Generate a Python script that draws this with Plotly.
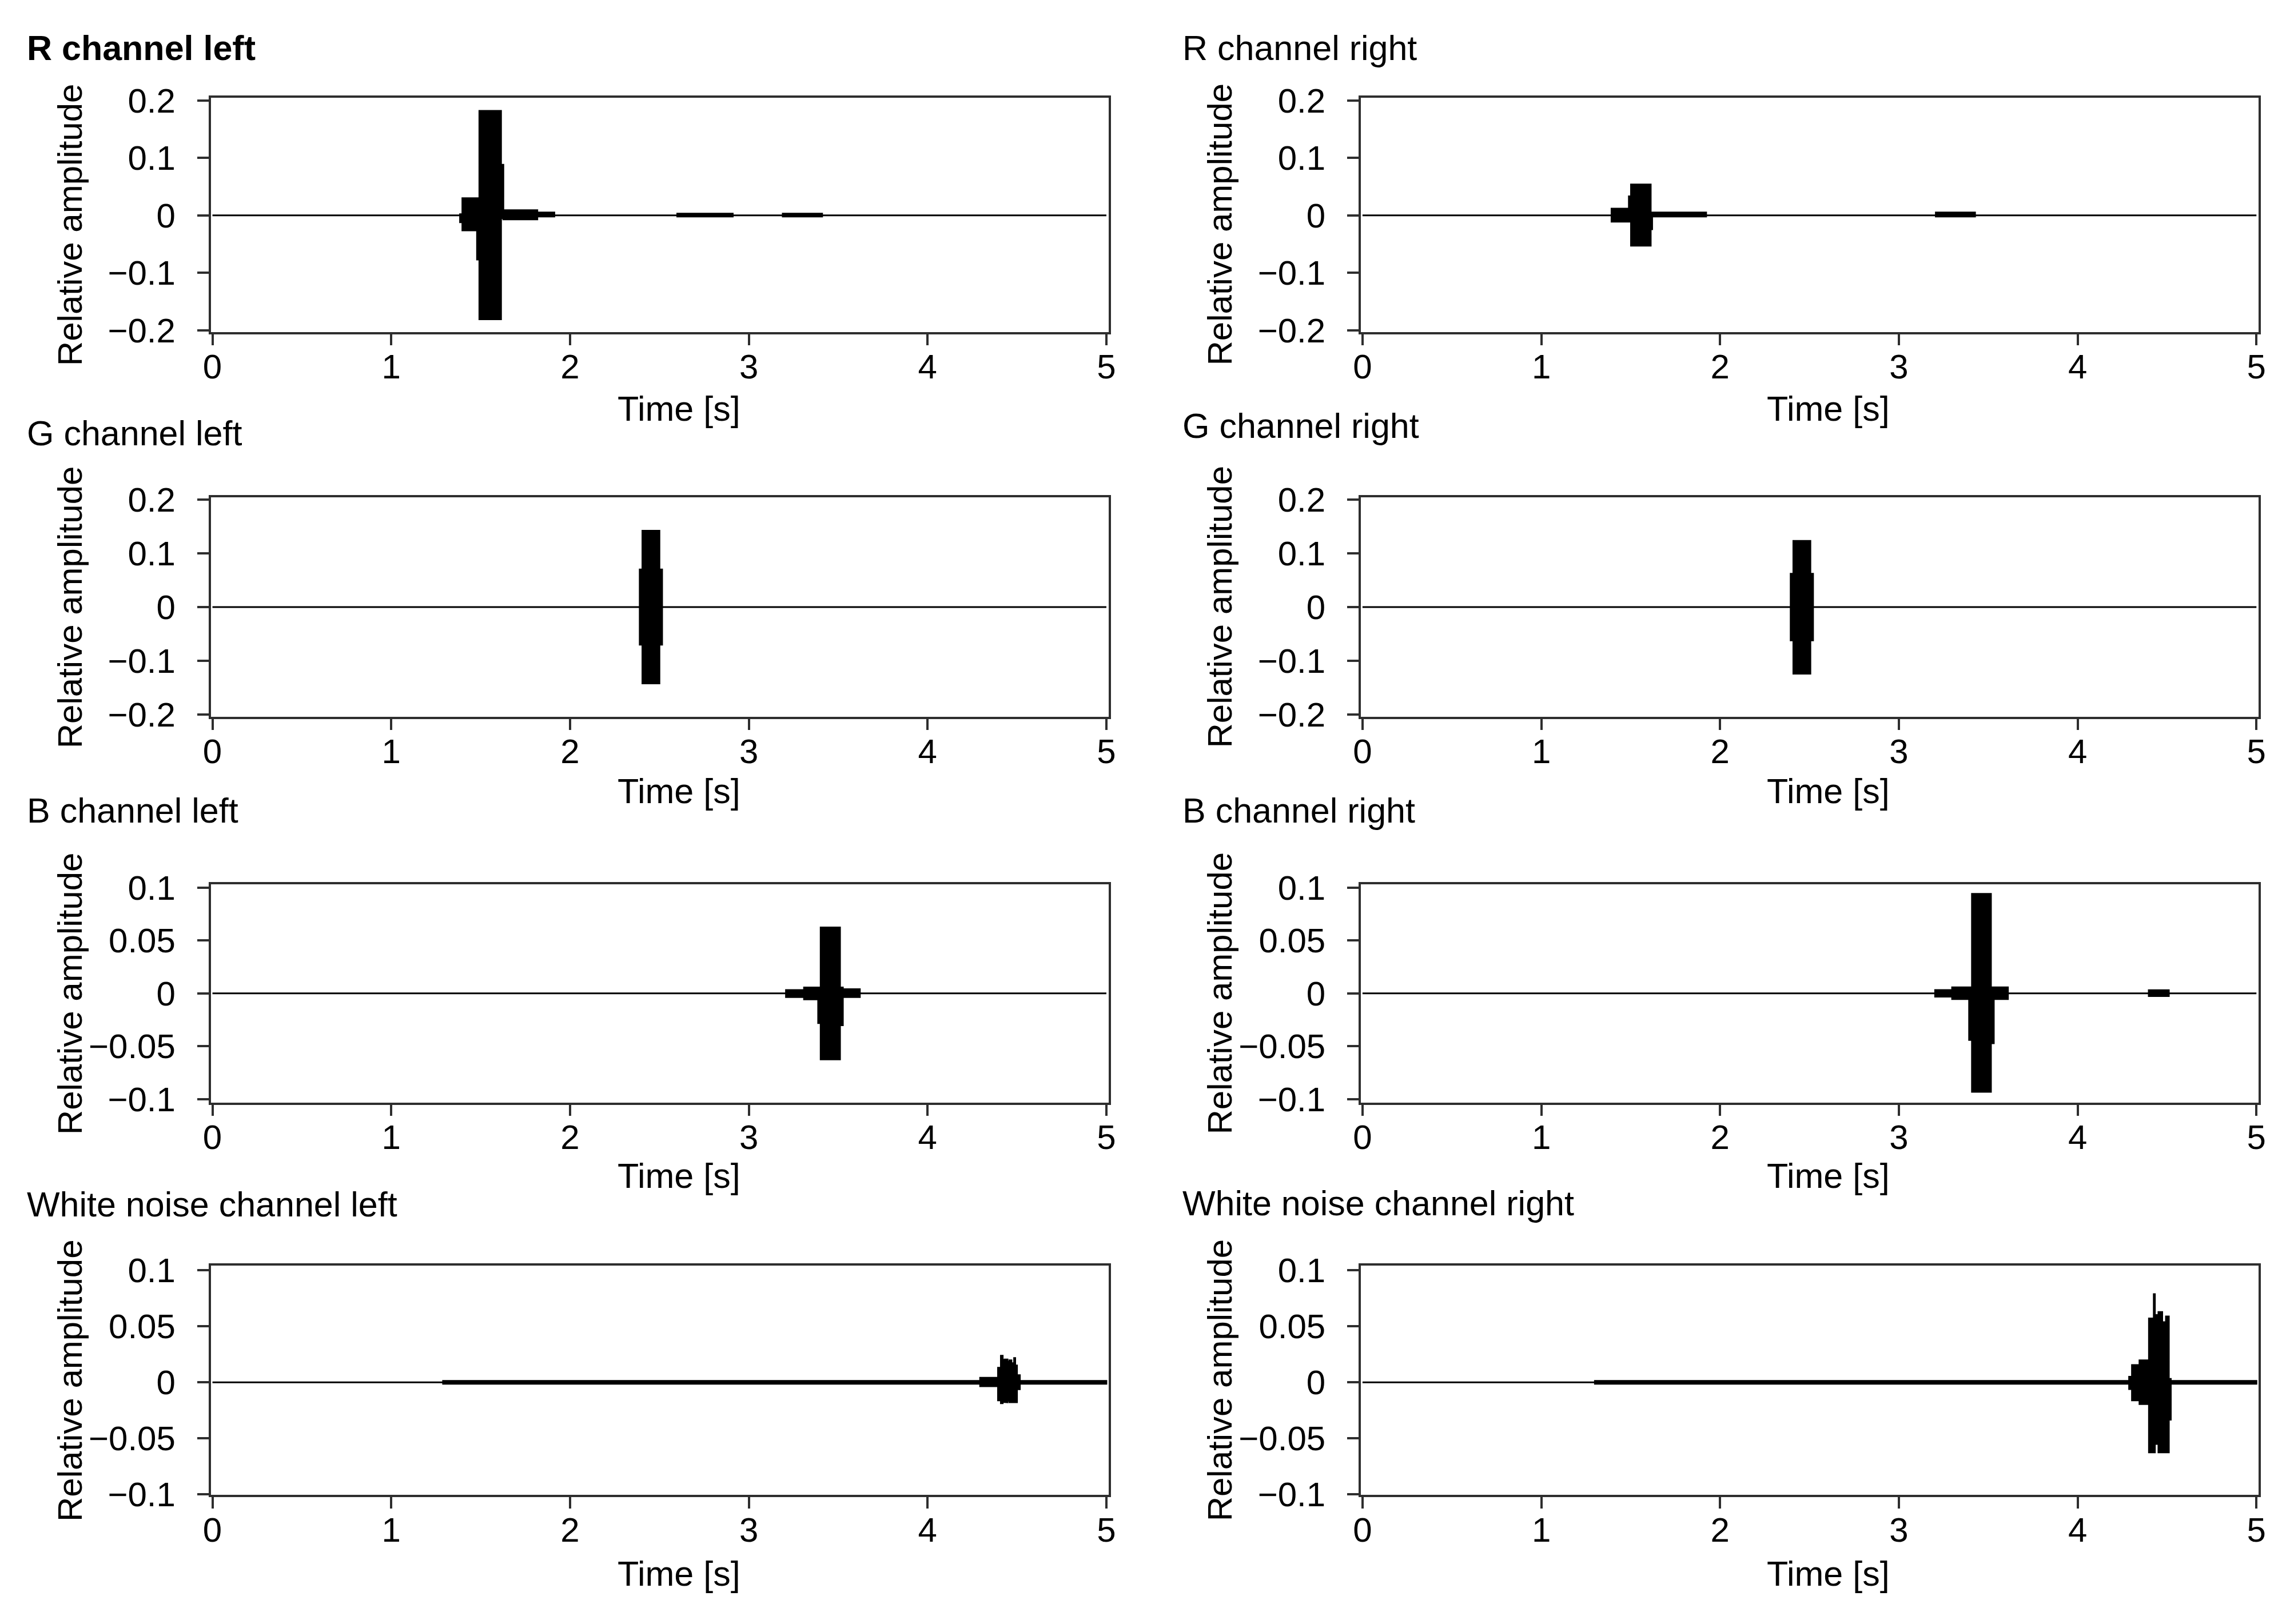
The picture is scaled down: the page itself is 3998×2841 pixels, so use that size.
import plotly.graph_objects as go

# ---------------- data ----------------
TIME_TICKS = [0, 1, 2, 3, 4, 5]
TIME_TICK_TEXT = ["0", "1", "2", "3", "4", "5"]
AMP_TICKS_RG = [-0.2, -0.1, 0, 0.1, 0.2]
AMP_TICK_TEXT_RG = ["\u22120.2", "\u22120.1", "0", "0.1", "0.2"]
AMP_TICKS_BW = [-0.1, -0.05, 0, 0.05, 0.1]
AMP_TICK_TEXT_BW = ["\u22120.1", "\u22120.05", "0", "0.05", "0.1"]

PANEL_TITLES = [
    "R channel left", "R channel right",
    "G channel left", "G channel right",
    "B channel left", "B channel right",
    "White noise channel left", "White noise channel right",
]

# envelope segments of each recording: (t_start [s], t_end [s], upper amplitude, lower amplitude)
R_LEFT = [
    (1.385, 1.398, 0.002, -0.012),
    (1.398, 1.480, 0.030, -0.026),
    (1.480, 1.493, 0.030, -0.077),
    (1.493, 1.614, 0.182, -0.181),
    (1.614, 1.627, 0.088, -0.005),
    (1.627, 1.817, 0.009, -0.007),
    (1.817, 1.912, 0.005, -0.002),
    (2.600, 2.910, 0.003, -0.002),
    (3.190, 3.410, 0.003, -0.002),
]
R_RIGHT = [
    (1.393, 1.490, 0.0116, -0.011),
    (1.490, 1.502, 0.033, -0.011),
    (1.502, 1.612, 0.0537, -0.0528),
    (1.612, 1.620, 0.005, -0.024),
    (1.620, 1.922, 0.005, -0.002),
    (3.207, 3.426, 0.005, -0.002),
]
G_LEFT = [
    (2.390, 2.405, 0.070, -0.070),
    (2.405, 2.500, 0.142, -0.142),
    (2.500, 2.515, 0.070, -0.070),
]
G_RIGHT = [
    (2.395, 2.410, 0.062, -0.062),
    (2.410, 2.505, 0.123, -0.124),
    (2.505, 2.520, 0.062, -0.062),
]
B_LEFT = [
    (3.208, 3.309, 0.0032, -0.0035),
    (3.309, 3.388, 0.0056, -0.0056),
    (3.388, 3.402, 0.0056, -0.028),
    (3.402, 3.510, 0.0623, -0.0623),
    (3.510, 3.526, 0.0056, -0.030),
    (3.526, 3.621, 0.0040, -0.0035),
]
B_RIGHT = [
    (3.203, 3.298, 0.0032, -0.003),
    (3.298, 3.393, 0.0058, -0.0053),
    (3.393, 3.409, 0.0058, -0.044),
    (3.409, 3.515, 0.094, -0.093),
    (3.515, 3.531, 0.0058, -0.047),
    (3.531, 3.610, 0.0058, -0.0053),
    (4.398, 4.510, 0.003, -0.0025),
]
W_LEFT = [
    (1.290, 4.294, 0.0013, -0.0013),
    (4.294, 4.394, 0.0040, -0.0035),
    (4.394, 4.410, 0.013, -0.0161),
    (4.410, 4.420, 0.0237, -0.0186),
    (4.420, 4.431, 0.0200, -0.0175),
    (4.431, 4.447, 0.0204, -0.0178),
    (4.447, 4.458, 0.0185, -0.0165),
    (4.458, 4.469, 0.0196, -0.0178),
    (4.469, 4.484, 0.0171, -0.0178),
    (4.484, 4.490, 0.0217, -0.0170),
    (4.490, 4.500, 0.0150, -0.0178),
    (4.500, 4.516, 0.0063, -0.0061),
    (4.516, 5.000, 0.0013, -0.0013),
]
W_RIGHT = [
    (1.300, 4.288, 0.0013, -0.0013),
    (4.288, 4.304, 0.005, -0.006),
    (4.304, 4.346, 0.0154, -0.0161),
    (4.346, 4.399, 0.0196, -0.0194),
    (4.399, 4.426, 0.0569, -0.0625),
    (4.426, 4.432, 0.0786, -0.0625),
    (4.432, 4.452, 0.0600, -0.0550),
    (4.452, 4.473, 0.0627, -0.0625),
    (4.473, 4.494, 0.0537, -0.0625),
    (4.494, 4.510, 0.0587, -0.0625),
    (4.510, 4.521, 0.0030, -0.0333),
    (4.521, 5.000, 0.0013, -0.0013),
]

CHANNELS = [R_LEFT, R_RIGHT, G_LEFT, G_RIGHT, B_LEFT, B_RIGHT, W_LEFT, W_RIGHT]
T_START, T_END = 0.0, 5.0

# ---------------- layout geometry (pixel positions in a 3998 x 2841 canvas) ----------------
W, H = 3998, 2841
COL_X = [(357, 1938), (2382, 3963)]
ROW_Y = [(145, 564), (860, 1252), (1552, 1942), (2234, 2644)]
Y_RANGES = [(-0.203, 0.205), (-0.204, 0.204), (-0.103, 0.103), (-0.1005, 0.104)]
X_RANGE = (-0.0095, 5.0127)
TITLE_X = [31, 2066]
TITLE_Y = [[56, 56], [745, 732], [1420, 1420], [2124, 2122]]
XTITLE_X = [1181, 3205]
XTITLE_Y = [701, 1385, 2073, 2785]
YTITLE_X = [110, 2134]
YTITLE_Y = [372, 1056, 1747, 2439]

FONT = "Liberation Sans, Arial, Helvetica, sans-serif"
AXIS_COLOR = "#2e2e2e"


def envelope_polygon(segs):
    upper = [(T_START, 0.0)]
    lower = [(T_START, 0.0)]
    n = len(segs)
    for i, (t0, t1, hi, lo) in enumerate(segs):
        joined_prev = i > 0 and abs(segs[i - 1][1] - t0) < 1e-9
        joined_next = i < n - 1 and abs(segs[i + 1][0] - t1) < 1e-9
        if not joined_prev:
            upper.append((t0, 0.0))
            lower.append((t0, 0.0))
        upper += [(t0, hi), (t1, hi)]
        lower += [(t0, lo), (t1, lo)]
        if not joined_next:
            upper.append((t1, 0.0))
            lower.append((t1, 0.0))
    upper.append((T_END, 0.0))
    lower.append((T_END, 0.0))
    pts = upper + lower[::-1]
    return [p[0] for p in pts], [p[1] for p in pts]


fig = go.Figure()
annotations = []
layout_axes = {}

for idx, segs in enumerate(CHANNELS):
    row, col = divmod(idx, 2)
    ax_n = idx + 1
    xs, ys = envelope_polygon(segs)
    fig.add_trace(go.Scatter(
        x=xs, y=ys, mode="lines", fill="toself",
        fillcolor="black", line=dict(color="black", width=3),
        xaxis=f"x{ax_n}", yaxis=f"y{ax_n}", showlegend=False,
        hoverinfo="skip",
    ))
    x0, x1 = COL_X[col]
    y0, y1 = ROW_Y[row]
    if row < 2:
        yt, ytt = AMP_TICKS_RG, AMP_TICK_TEXT_RG
    else:
        yt, ytt = AMP_TICKS_BW, AMP_TICK_TEXT_BW
    common = dict(
        showline=True, mirror=True, linecolor=AXIS_COLOR, linewidth=3.5,
        ticks="outside", ticklen=20, tickwidth=3.5, tickcolor=AXIS_COLOR,
        showgrid=False, zeroline=False,
        tickfont=dict(family=FONT, size=60, color="black"),
        fixedrange=True,
    )
    xname = "xaxis" if ax_n == 1 else f"xaxis{ax_n}"
    yname = "yaxis" if ax_n == 1 else f"yaxis{ax_n}"
    layout_axes[xname] = dict(
        common, domain=[x0 / W, x1 / W], range=list(X_RANGE),
        tickvals=TIME_TICKS, ticktext=TIME_TICK_TEXT,
        anchor=f"y{ax_n}", ticklabelstandoff=-14,
    )
    layout_axes[yname] = dict(
        common, domain=[1 - y1 / H, 1 - y0 / H], range=list(Y_RANGES[row]),
        tickvals=yt, ticktext=ytt,
        anchor=f"x{ax_n}", ticklabelstandoff=26,
    )
    title = PANEL_TITLES[idx]
    annotations.append(dict(
        text=f"<b>{title}</b>" if idx == 0 else title,
        x=TITLE_X[col] / W, y=1 - TITLE_Y[row][col] / H,
        xref="paper", yref="paper", xanchor="left", yanchor="middle",
        showarrow=False, font=dict(family=FONT, size=61, color="black"),
    ))
    annotations.append(dict(
        text="Time [s]",
        x=XTITLE_X[col] / W, y=1 - XTITLE_Y[row] / H,
        xref="paper", yref="paper", xanchor="center", yanchor="middle",
        showarrow=False, font=dict(family=FONT, size=61, color="black"),
    ))
    annotations.append(dict(
        text="Relative amplitude", textangle=-90,
        x=YTITLE_X[col] / W, y=1 - YTITLE_Y[row] / H,
        xref="paper", yref="paper", xanchor="center", yanchor="middle",
        showarrow=False, font=dict(family=FONT, size=60, color="black"),
    ))

fig.update_layout(
    width=W, height=H,
    margin=dict(l=0, r=0, t=0, b=0),
    paper_bgcolor="white", plot_bgcolor="white",
    showlegend=False,
    annotations=annotations,
    **layout_axes,
)

fig.write_html("out.html", config={"displayModeBar": False},
               post_script="document.body.style.margin='0px';")
